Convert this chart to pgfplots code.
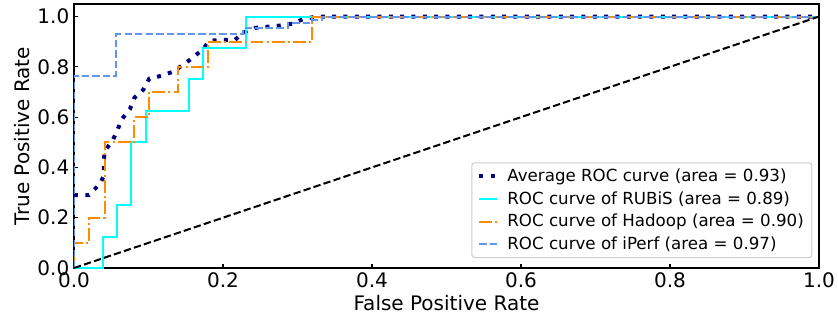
\documentclass[border=0pt]{standalone}
\usepackage{fontspec}
\setmainfont{DejaVu Sans}
\usepackage{pgfplots}
\pgfplotsset{compat=1.18}

\definecolor{navyc}{RGB}{0,0,128}
\definecolor{aquac}{RGB}{0,255,255}
\definecolor{dorange}{RGB}{255,140,0}
\definecolor{cfblue}{RGB}{100,149,237}

\begin{document}
\begin{tikzpicture}
\begin{axis}[
  name=ax,
  scale only axis,
  width=558.75pt, height=198pt,
  xmin=0, xmax=1, ymin=0, ymax=1.05,
  xtick={0,0.2,0.4,0.6,0.8,1.0},
  ytick={0,0.2,0.4,0.6,0.8,1.0},
  xticklabels={0.0,0.2,0.4,0.6,0.8,1.0},
  yticklabels={0.0,0.2,0.4,0.6,0.8,1.0},
  xtick pos=bottom, ytick pos=left,
  tick align=inside,
  major tick length=3pt,
  every tick/.style={black, line width=0.8pt},
  axis line style={line width=1.4pt},
  tick label style={font=\fontsize{15}{18}\selectfont},
  label style={font=\fontsize{15}{18}\selectfont},
  xlabel={False Positive Rate},
  ylabel={True Positive Rate},
  xlabel style={yshift=1pt},
  ylabel style={yshift=-1pt},
  /pgf/number format/assume math mode=true,
  legend cell align=left,
  legend style={
    at={(1,0)}, anchor=south east, xshift=-5pt, yshift=7.5pt,
    font=\fontsize{12.5}{15}\selectfont,
    draw=black!20, line width=0.75pt, rounded corners=2pt,
    inner xsep=4pt, inner ysep=2.5pt,
    row sep=2pt,
    /tikz/every odd column/.style={column sep=4pt},
  },
  legend image code/.code={%
    \draw[#1] (0cm,0cm) -- (0.48cm,0cm);},
]

% averaged curve
\addplot[navyc, line width=3pt, dash pattern=on 3pt off 5.5pt] coordinates {
 (0,0.29) (0.02,0.29) (0.035,0.335) (0.04,0.367) (0.04,0.414) (0.041,0.466)
 (0.051,0.502) (0.058,0.546) (0.064,0.591) (0.075,0.632) (0.081,0.677)
 (0.093,0.709) (0.101,0.753) (0.118,0.765) (0.133,0.781) (0.147,0.809)
 (0.16,0.838) (0.173,0.870) (0.182,0.904) (0.2,0.907) (0.216,0.907)
 (0.227,0.936) (0.243,0.955) (0.258,0.959) (0.276,0.964) (0.293,0.972)
 (0.307,0.989) (0.325,1.0) (1,1)
};
\addlegendentry{Average ROC curve (area = 0.93)}

% RUBiS
\addplot[aquac, line width=1.5pt] coordinates {
 (0,0) (0.039,0) (0.039,0.125) (0.058,0.125) (0.058,0.25) (0.077,0.25)
 (0.077,0.5) (0.096,0.5) (0.096,0.625) (0.154,0.625) (0.154,0.75)
 (0.173,0.75) (0.173,0.875) (0.231,0.875) (0.231,1) (1,1)
};
\addlegendentry{ROC curve of RUBiS (area = 0.89)}

% Hadoop
\addplot[dorange, line width=1.5pt, dash pattern=on 9.6pt off 2.4pt on 1.5pt off 2.4pt] coordinates {
 (0,0) (0,0.1) (0.0205,0.1) (0.0205,0.2) (0.041,0.2) (0.041,0.5)
 (0.081,0.5) (0.081,0.6) (0.101,0.6) (0.101,0.7) (0.140,0.7) (0.140,0.8)
 (0.180,0.8) (0.180,0.9) (0.32,0.9) (0.32,1) (1,1)
};
\addlegendentry{ROC curve of Hadoop (area = 0.90)}

% iPerf
\addplot[cfblue, line width=1.5pt, dash pattern=on 5.5pt off 2.4pt] coordinates {
 (0,0) (0,0.765) (0.057,0.765) (0.057,0.93) (0.227,0.93) (0.227,0.955)
 (0.287,0.955) (0.287,0.975) (0.32,0.975) (0.32,0.985) (0.333,0.985)
 (0.333,1) (1,1)
};
\addlegendentry{ROC curve of iPerf (area = 0.97)}

% chance line
\addplot[black, line width=1.5pt, dash pattern=on 5.5pt off 2.4pt, forget plot] coordinates {
 (0,0) (1,1)
};

\end{axis}
\pgfresetboundingbox
\path[use as bounding box] ([shift={(-55.5pt,-39.75pt)}]ax.south west)
  rectangle ([shift={(14.25pt,3pt)}]ax.north east);
\end{tikzpicture}
\end{document}
